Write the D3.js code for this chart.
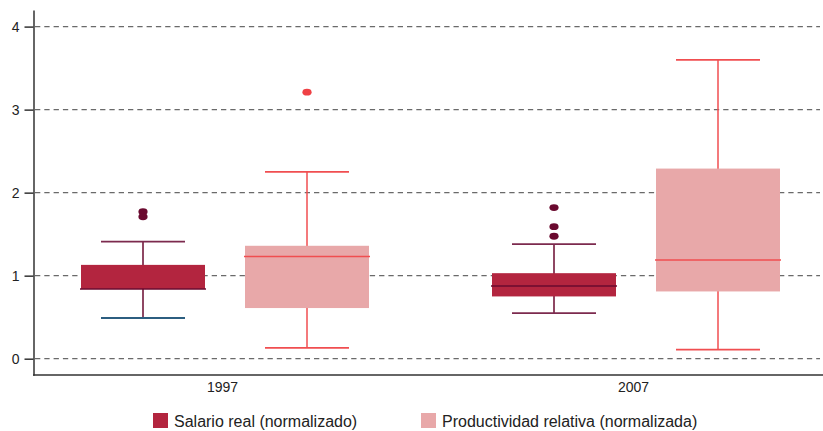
<!DOCTYPE html>
<html>
<head>
<meta charset="utf-8">
<script src="https://cdn.jsdelivr.net/npm/d3@7"></script>
<style>
  html, body { margin: 0; padding: 0; background: #fff; }
  svg { display: block; font-family: "Liberation Sans", Arial, sans-serif; }
</style>
</head>
<body>
<svg id="chart" width="823" height="431"></svg>
<script>
// Categories and series
const years = ["1997", "2007"];
const seriesNames = ["Salario real (normalizado)", "Productividad relativa (normalizada)"];
const yTicks = [0, 1, 2, 3, 4];

// Salario real (normalizado): box-plot statistics per year
const salarioLow     = [0.49, 0.55];
const salarioQ1      = [0.84, 0.75];
const salarioMedian  = [0.84, 0.875];
const salarioQ3      = [1.13, 1.03];
const salarioHigh    = [1.41, 1.38];
const salarioOutliers = [[1.77, 1.71], [1.82, 1.59, 1.475]];

// Productividad relativa (normalizada): box-plot statistics per year
const prodLow     = [0.13, 0.11];
const prodQ1      = [0.61, 0.81];
const prodMedian  = [1.23, 1.19];
const prodQ3      = [1.36, 2.29];
const prodHigh    = [2.25, 3.60];
const prodOutliers = [[3.21], []];

const svg = d3.select("#chart");

const styles = {
  salario: { fill: "#b3253f", line: "#6a0a2f", cap: "#7c2a4e", lowCap1997: "#2c5e80", dot: "#6a0a2f" },
  prod:    { fill: "#e8a8a9", line: "#f04e50", cap: "#f04e50", dot: "#ef4145" }
};

// Scales
const y = d3.scaleLinear().domain([-0.2, 4.2]).range([375.3, 10]);
const x = d3.scalePoint().domain(years).range([222, 633]);
const offset = d3.scaleOrdinal().domain(["salario", "prod"]).range([-79, 85]);
const boxW = 124, capW = 84;

// Gridlines
svg.append("g")
  .selectAll("line")
  .data(yTicks)
  .join("line")
  .attr("x1", 35).attr("x2", 820)
  .attr("y1", d => y(d)).attr("y2", d => y(d))
  .attr("stroke", "#6a6a6a")
  .attr("stroke-width", 1.3)
  .attr("stroke-dasharray", "5.3,4");

// Assemble per-series box data
function build(key, low, q1, med, q3, high, outl) {
  return years.map((yr, i) => ({ key, year: yr, low: low[i], q1: q1[i], med: med[i], q3: q3[i], high: high[i], out: outl[i] }));
}
const boxes = [
  ...build("salario", salarioLow, salarioQ1, salarioMedian, salarioQ3, salarioHigh, salarioOutliers),
  ...build("prod", prodLow, prodQ1, prodMedian, prodQ3, prodHigh, prodOutliers)
];

const g = svg.append("g")
  .selectAll("g")
  .data(boxes)
  .join("g")
  .attr("transform", d => `translate(${x(d.year) + offset(d.key)},0)`);

// Whisker stems
g.append("line")
  .attr("x1", 0).attr("x2", 0)
  .attr("y1", d => y(d.high)).attr("y2", d => y(d.low))
  .attr("stroke", d => styles[d.key].line)
  .attr("stroke-width", 1.5);

// Boxes
g.append("rect")
  .attr("x", -boxW / 2)
  .attr("width", boxW)
  .attr("y", d => y(d.q3))
  .attr("height", d => y(d.q1) - y(d.q3))
  .attr("fill", d => styles[d.key].fill);

// Medians
g.append("line")
  .attr("x1", -boxW / 2 - 1).attr("x2", boxW / 2 + 1)
  .attr("y1", d => y(d.med)).attr("y2", d => y(d.med))
  .attr("stroke", d => styles[d.key].line)
  .attr("stroke-width", 1.5);

// Whisker caps
g.append("line")
  .attr("x1", -capW / 2).attr("x2", capW / 2)
  .attr("y1", d => y(d.high)).attr("y2", d => y(d.high))
  .attr("stroke", d => styles[d.key].cap)
  .attr("stroke-width", 1.8);
g.append("line")
  .attr("x1", -capW / 2).attr("x2", capW / 2)
  .attr("y1", d => y(d.low)).attr("y2", d => y(d.low))
  .attr("stroke", d => d.key === "salario" && d.year === "1997" ? styles.salario.lowCap1997 : styles[d.key].cap)
  .attr("stroke-width", 1.8);

// Outliers
g.selectAll("ellipse")
  .data(d => d.out.map(v => ({ v, key: d.key })))
  .join("ellipse")
  .attr("cx", 0)
  .attr("cy", d => y(d.v))
  .attr("rx", 4.6).attr("ry", 3.4)
  .attr("fill", d => styles[d.key].dot);

// Y axis
const yAxis = svg.append("g")
  .attr("transform", "translate(33.5,0)")
  .call(d3.axisLeft(y).tickValues(yTicks).tickFormat(d3.format("d"))
    .tickSize(9).tickSizeOuter(0).tickPadding(5));
yAxis.select(".domain").attr("stroke", "#333").attr("stroke-width", 1.5);
yAxis.selectAll(".tick line").attr("stroke", "#333").attr("stroke-width", 1.5);
yAxis.selectAll(".tick text")
  .attr("font-family", "'Liberation Sans', Arial, sans-serif")
  .attr("font-size", 14).attr("fill", "#222");

// X axis
const xAxis = svg.append("g")
  .attr("transform", "translate(0,375)")
  .call(d3.axisBottom(x).tickSize(0).tickPadding(7));
xAxis.select(".domain").remove();
xAxis.append("line")
  .attr("x1", 33).attr("x2", 823)
  .attr("stroke", "#333").attr("stroke-width", 1.5);
xAxis.selectAll(".tick text")
  .attr("font-family", "'Liberation Sans', Arial, sans-serif")
  .attr("font-size", 14).attr("fill", "#222");

// Legend
const legendX = d3.scaleOrdinal().domain(seriesNames).range([153, 421]);
const legendFill = d3.scaleOrdinal().domain(seriesNames).range([styles.salario.fill, styles.prod.fill]);
const lg = svg.append("g")
  .selectAll("g")
  .data(seriesNames)
  .join("g")
  .attr("transform", d => `translate(${legendX(d)},413)`);
lg.append("rect")
  .attr("width", 15).attr("height", 15)
  .attr("fill", d => legendFill(d));
lg.append("text")
  .attr("x", 21).attr("y", 14)
  .attr("font-size", 16).attr("fill", "#222")
  .text(d => d);
</script>
</body>
</html>
